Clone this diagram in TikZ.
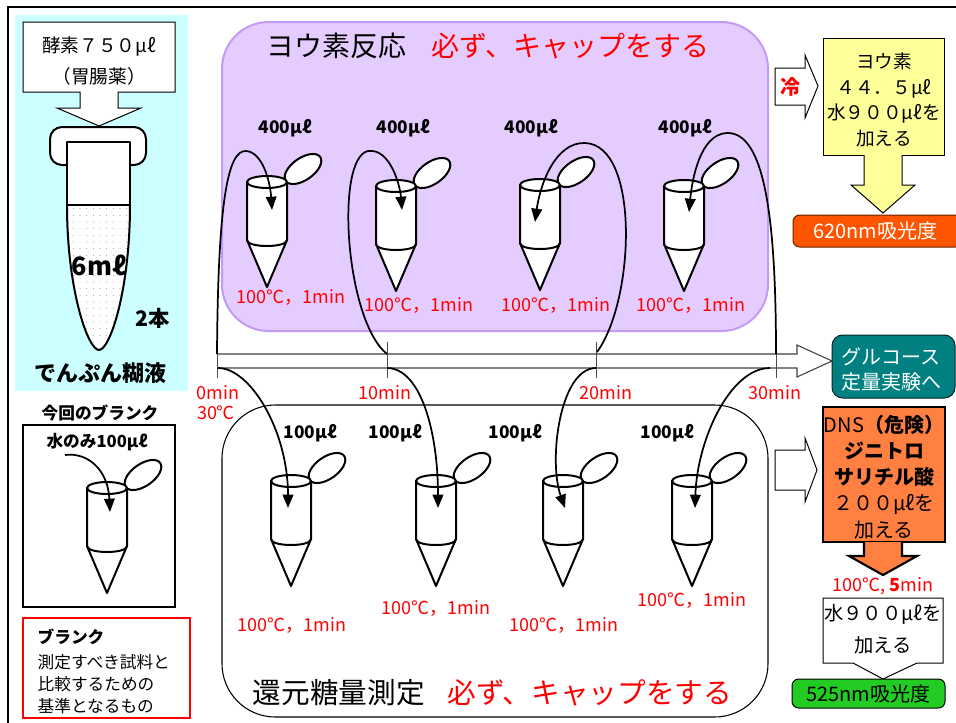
\documentclass[tikz,border=0pt]{standalone}
\usepackage{fontspec}
\setmainfont{Noto Sans CJK JP}
\usetikzlibrary{arrows.meta,patterns.meta}

\definecolor{panelcyan}{HTML}{CCFFFF}
\definecolor{lavfill}{HTML}{E5CCFF}
\definecolor{lavline}{HTML}{C49AF5}
\definecolor{lemon}{HTML}{FFFF99}
\definecolor{vermil}{HTML}{FF5500}
\definecolor{tealbox}{HTML}{008080}
\definecolor{dnsorange}{HTML}{FF8040}
\definecolor{leaf}{HTML}{22CC22}
\definecolor{alert}{HTML}{FF0000}

\newcommand{\sz}[2]{\fontsize{#1}{#2}\selectfont}

\tikzset{
  tubeline/.style={line width=1.5pt, line join=round},
  flow/.style={line width=1.3pt, -{Triangle[length=10pt,width=8pt]}},
  thinbox/.style={draw=black, line width=0.75pt},
  vol/.style={font=\sz{13}{15}\bfseries},
  heat/.style={text=alert, font=\sz{13.5}{16}},
  pics/tube/.style={code={
    \draw[tubeline,fill=white,rotate around={35:(36,-13)}] (36,-13) ellipse [x radius=21, y radius=11];
    \draw[tubeline,fill=white] (-20,58) -- (0,105) -- (20,58);
    \draw[tubeline,fill=white] (-20,0) -- (-20,58) .. controls (-20,66) and (20,66) .. (20,58) -- (20,0);
    \draw[tubeline,fill=white] (0,0) ellipse [x radius=20, y radius=6];
  }}
}

\begin{document}
\begin{tikzpicture}[x=0.75pt,y=-0.75pt]
\useasboundingbox (0,0) rectangle (956,722);
\clip (0,0) rectangle (956,722);
\fill[white] (0,0) rectangle (956,722);
\draw[line width=2pt] (8,7) rectangle (1000,1000);

% ---------- starch sample panel ----------
\fill[panelcyan] (15,15) rectangle (188,391);
\draw[thinbox, fill=white] (23,22) -- (175,22) -- (175,92) -- (118,92) -- (118,108) -- (141,108)
  -- (99,126) -- (57,108) -- (80,108) -- (80,92) -- (23,92) -- cycle;
\node[font=\sz{14}{17}] (enz1) at (99,47) {酵素７５０μℓ};
\node[font=\sz{14}{17}] (enz2) at (99,76) {（胃腸薬）};

\draw[tubeline, fill=white, rounded corners=9] (50,127) rectangle (146,165);
\draw[tubeline, fill=white] (67,205) -- (67,142) -- (130,142) -- (130,205);
\fill[white] (67,205) .. controls (67,290) and (88,350) .. (99,350) .. controls (110,350) and (130,290) .. (130,205) -- cycle;
\fill[pattern={Dots[distance=5pt,radius=0.35pt]}, pattern color=gray] (67,205) .. controls (67,290) and (88,350) .. (99,350) .. controls (110,350) and (130,290) .. (130,205) -- cycle;
\draw[tubeline] (67,205) .. controls (67,290) and (88,350) .. (99,350) .. controls (110,350) and (130,290) .. (130,205);
\draw[line width=0.8pt] (67,205) -- (130,205);
\node[font=\sz{19}{22}\bfseries] (vol6) at (99,265) {6mℓ};
\node[font=\sz{16}{19}\bfseries] (two) at (153,318) {2本};
\node[font=\sz{16.5}{19}\bfseries] (starch) at (100,373) {でんぷん糊液};

% ---------- blank ----------
\node[font=\sz{12.5}{15}\bfseries] (blankttl) at (100,413) {今回のブランク};
\draw[line width=1.5pt] (23,425) rectangle (175,607);
\node[font=\sz{12.5}{15}\bfseries] (blankvol) at (97,442) {水のみ100μℓ};
\pic at (107,488) {tube};
\coordinate (bsrc) at (65,455);
\coordinate (bin) at (110,512);
\draw[flow] (bsrc) .. controls (88,452) and (108,470) .. (bin);

\draw[alert, line width=2pt] (23,618) rectangle (190,718);
\node[font=\sz{12.5}{15}\bfseries, anchor=west] (defttl) at (33,637) {ブランク};
\node[font=\sz{12.5}{16.5}, anchor=north west, align=left] (deftxt) at (33,650)
  {測定すべき試料と\\比較するための\\基準となるもの};

% ---------- iodine reaction panel ----------
\draw[fill=lavfill, draw=lavline, line width=1.5pt, rounded corners=35] (222,22) rectangle (768,331);
\node[font=\sz{21}{24}, anchor=west] (iodttl) at (262,46) {ヨウ素反応\hspace{0.9em}\textcolor{alert}{必ず、キャップをする}};

\pic at (267,182) {tube};
\pic at (396,186) {tube};
\pic at (540,185) {tube};
\pic at (684,186) {tube};
\node[vol] (v1) at (285,128) {400μℓ};
\node[vol] (v2) at (403,128) {400μℓ};
\node[vol] (v3) at (531,128) {400μℓ};
\node[vol] (v4) at (685,128) {400μℓ};
\node[heat] (h1) at (291,297) {100℃，1min};
\node[heat] (h2) at (419,305) {100℃，1min};
\node[heat] (h3) at (556,305) {100℃，1min};
\node[heat] (h4) at (691,305) {100℃，1min};

% ---------- reducing sugar panel ----------
\draw[line width=0.8pt, rounded corners=40] (222,405) rectangle (768,717);
\node[font=\sz{21.5}{24}, anchor=west] (sugttl) at (248,693) {還元糖量測定\hspace{0.8em}\textcolor{alert}{必ず、キャップをする}};

\pic at (291,481) {tube};
\pic at (436,481) {tube};
\pic at (563,481) {tube};
\pic at (692,481) {tube};
\node[vol] (w1) at (310,433) {100μℓ};
\node[vol] (w2) at (395,433) {100μℓ};
\node[vol] (w3) at (515,433) {100μℓ};
\node[vol] (w4) at (667,433) {100μℓ};
\node[heat] (k1) at (292,625) {100℃，1min};
\node[heat] (k2) at (436,608) {100℃，1min};
\node[heat] (k3) at (564,625) {100℃，1min};
\node[heat] (k4) at (692,600) {100℃，1min};

% ---------- time line ----------
\draw[line width=0.8pt, draw=black!75, line join=miter] (217,354) -- (797,354) -- (797,345) -- (832,361) -- (797,377) -- (797,368) -- (217,368);
\foreach \x in {217,387,596,776} \draw[black!70, line width=0.7pt] (\x,342) -- (\x,378);
\node[heat] (t0) at (218,393) {0min};
\node[heat] (t30c) at (216,413) {30℃};
\node[heat] (t10) at (385,393) {10min};
\node[heat] (t20) at (606,393) {20min};
\node[heat] (t30) at (775,393) {30min};

\coordinate (up0) at (217,354);
\coordinate (up10) at (387,354);
\coordinate (up20) at (597,352);
\coordinate (up30) at (776,354);
\coordinate (lo0) at (218,368);
\coordinate (lo10) at (387,368);
\coordinate (lo20) at (596,368);
\coordinate (lo30) at (770,368);
\coordinate (in1) at (272,210);
\coordinate (in2) at (402,210);
\coordinate (in3) at (535,222);
\coordinate (in4) at (689,212);
\coordinate (jn1) at (288,508);
\coordinate (jn2) at (438,508);
\coordinate (jn3) at (565,508);
\coordinate (jn4) at (695,508);

\draw[flow] (up0) .. controls (218,200) and (228,150) .. (246,151) .. controls (262,152) and (270,180) .. (in1);
\draw[flow] (up10) .. controls (345,320) and (335,158) .. (368,151) .. controls (390,148) and (400,185) .. (in2);
\draw[flow] (up20) .. controls (635,300) and (640,145) .. (585,143) .. controls (555,142) and (540,185) .. (in3);
\draw[flow] (up30) .. controls (776,220) and (765,132) .. (727,133) .. controls (700,134) and (692,180) .. (in4);
\draw[flow] (lo0) .. controls (250,368) and (288,430) .. (jn1);
\draw[flow] (lo10) .. controls (420,368) and (438,430) .. (jn2);
\draw[flow] (lo20) .. controls (560,368) and (548,460) .. (jn3);
\draw[flow] (lo30) .. controls (730,368) and (697,440) .. (jn4);

% ---------- iodine read-out ----------
\draw[thinbox, fill=white] (775,68) -- (805,68) -- (805,55) -- (818,86) -- (805,118) -- (805,105) -- (775,105) -- cycle;
\node[text=alert, font=\sz{15}{17}\bfseries] (cold) at (790,87) {冷};
\draw[thinbox, fill=lemon] (823,38) rectangle (944,155);
\node[font=\sz{14}{19.3}, align=center] (iodadd) at (884,100) {ヨウ素\\４４．５μℓ\\水９００μℓを\\加える};
\draw[thinbox, fill=lemon] (864,155) -- (864,185) -- (851,185) -- (883,213) -- (915,185) -- (902,185) -- (902,155);
\draw[draw=black!60!vermil, line width=0.75pt, fill=vermil, rounded corners=5] (793,215) rectangle (962,247);
\node[text=white, font=\sz{15}{18}] (abs620) at (875,231) {620nm吸光度};

% ---------- glucose ----------
\draw[draw=black!70!tealbox, line width=0.75pt, fill=tealbox, rounded corners=8] (832,335) rectangle (955,398);
\node[text=white, font=\sz{15}{18.8}, align=center] (gluc) at (891,369) {グルコース\\定量実験へ};

% ---------- DNS read-out ----------
\draw[thinbox, fill=white] (775,450) -- (805,450) -- (805,438) -- (817,470) -- (805,502) -- (805,490) -- (775,490) -- cycle;
\draw[line width=1.6pt, fill=dnsorange] (823,407) rectangle (945,542);
\node[font=\sz{15}{19.6}, align=center] (dns) at (884,477)
  {DNS{\bfseries（危険）}\\{\bfseries ジニトロ}\\{\bfseries サリチル酸}\\２００μℓを\\加える};
\draw[line width=1.6pt, fill=dnsorange, line join=miter] (864,542) -- (864,556) -- (849,556) -- (883,575) -- (917,556) -- (902,556) -- (902,542);
\node[heat] (h5) at (883,586) {100℃, {\bfseries 5}min};
\draw[thinbox, fill=white] (823,598) -- (943,598) -- (943,663) -- (917,663) -- (883,679) -- (853,663) -- (823,663) -- cycle;
\node[font=\sz{14.5}{24}, align=center] (water) at (883,629) {水９００μℓを\\加える};
\draw[line width=0.75pt, fill=leaf, rounded corners=5] (792,679) rectangle (945,708);
\node[font=\sz{15}{18}] (abs525) at (868,694) {525nm吸光度};
\end{tikzpicture}
\end{document}
